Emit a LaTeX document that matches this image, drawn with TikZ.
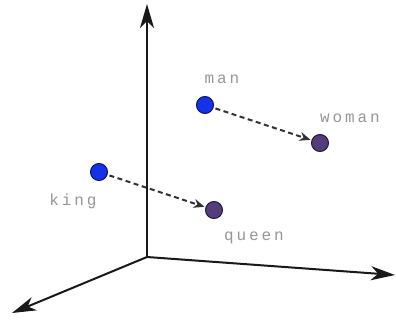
\documentclass[tikz,border=0pt]{standalone}
\usepackage{fontspec}
\newfontfamily\labelfont[LetterSpace=18]{Liberation Mono}
\usetikzlibrary{arrows.meta}
\definecolor{axiscol}{RGB}{25,25,25}
\definecolor{labelgrey}{RGB}{150,150,150}
\definecolor{dotblue}{RGB}{20,50,230}
\definecolor{dotblueline}{RGB}{10,20,110}
\definecolor{dotpurple}{RGB}{85,60,125}
\definecolor{dotpurpleline}{RGB}{35,25,60}
\definecolor{dashcol}{RGB}{50,50,50}
\tikzset{
  axis/.style={draw=axiscol, line width=2pt, -{Stealth[length=24pt,width=14pt,inset=7pt]}},
  bluedot/.style={circle, minimum size=17pt, inner sep=0pt, fill=dotblue, draw=dotblueline, line width=1pt},
  purpledot/.style={circle, minimum size=17pt, inner sep=0pt, fill=dotpurple, draw=dotpurpleline, line width=1pt},
  wordlabel/.style={text=labelgrey, font=\labelfont\fontsize{16}{18}\selectfont, inner sep=0pt},
  relation/.style={draw=dashcol, line width=2pt, dash pattern=on 5pt off 3.5pt, -{Stealth[length=11pt,width=9pt]}, shorten >=1pt, shorten <=2pt}
}
\begin{document}
\begin{tikzpicture}[x=1pt,y=-1pt]
\useasboundingbox (0,0) rectangle (396,320);
\coordinate (o) at (147,257);
\coordinate (up) at (147,4);
\coordinate (right) at (395,275);
\coordinate (left) at (12,313);
\draw[axis] (o) -- (up);
\draw[axis] (o) -- (right);
\draw[axis] (o) -- (left);
\node[bluedot] (man) at (205,105) {};
\node[purpledot] (woman) at (320,143) {};
\node[bluedot] (king) at (99,172) {};
\node[purpledot] (queen) at (214,210) {};
\node[wordlabel] (lman) at (222,79) {man};
\node[wordlabel] (lwoman) at (350,118) {woman};
\node[wordlabel] (lking) at (73,201) {king};
\node[wordlabel] (lqueen) at (254,238) {queen};
\draw[relation] (man) -- (woman);
\draw[relation] (king) -- (queen);
\end{tikzpicture}
\end{document}
